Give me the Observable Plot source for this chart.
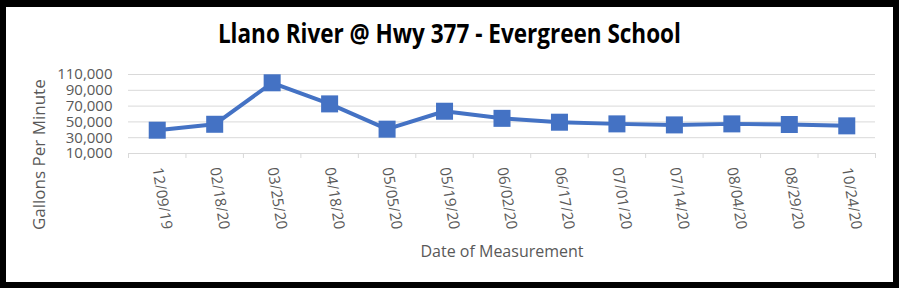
<!DOCTYPE html>
<html>
<head>
<meta charset="utf-8">
<script src="https://cdn.jsdelivr.net/npm/d3@7"></script>
<script src="https://cdn.jsdelivr.net/npm/@observablehq/plot@0.6"></script>
<style>
  html, body { margin: 0; padding: 0; background: #fff; }
  #frame {
    position: relative; width: 899px; height: 288px; box-sizing: border-box;
    border-style: solid; border-color: #000; border-width: 7px 6px 6px 6px;
    background: #fff; overflow: hidden;
  }
  #title {
    position: absolute; top: 13px; left: 0; width: 887px; text-align: center;
    font: 700 26px "Open Sans", sans-serif; line-height: 26px; color: #000;
    white-space: nowrap;
  }
  #title span { display: inline-block; transform-origin: center; }
  #chart { position: absolute; top: 53px; left: 0; }
</style>
</head>
<body>
<div id="frame">
  <div id="title"><span id="titleText"></span></div>
  <div id="chart"></div>
</div>
<script>
const chartTitle = "Llano River @ Hwy 377 - Evergreen School";
const xTitle = "Date of Measurement";
const yTitle = "Gallons Per Minute";
const dates = ["12/09/19","02/18/20","03/25/20","04/18/20","05/05/20","05/19/20","06/02/20","06/17/20","07/01/20","07/14/20","08/04/20","08/29/20","10/24/20"];
const gpm = [39500, 47000, 99500, 72800, 40800, 63500, 54500, 49600, 47500, 46200, 47500, 46700, 45000];
const yTicks = [10000, 30000, 50000, 70000, 90000, 110000];

const data = dates.map((d, i) => ({date: d, i, value: gpm[i]}));
const n = dates.length;
const blue = "#4472C4";
const grey = "#595959";

const t = document.getElementById("titleText");
t.textContent = chartTitle;
const w = t.getBoundingClientRect().width;
t.style.transform = `scaleX(${463 / w})`;

const plot = Plot.plot({
  width: 887,
  height: 222,
  marginTop: 14,
  marginBottom: 129,
  marginLeft: 122,
  marginRight: 18,
  style: {fontFamily: "'Open Sans', sans-serif", fontSize: "15px", color: grey, background: "transparent", overflow: "visible"},
  x: {type: "linear", domain: [0, n]},
  y: {domain: [yTicks[0], yTicks[yTicks.length - 1]]},
  marks: [
    Plot.gridY(yTicks.slice(1), {stroke: "#d9d9d9", strokeOpacity: 1}),
    Plot.ruleY([yTicks[0]], {stroke: "#d9d9d9"}),
    Plot.axisX({ticks: d3.range(n + 1), tickSize: 5, tickFormat: () => "", stroke: "#d9d9d9", strokeOpacity: 1, label: null}),
    Plot.axisX({ticks: d3.range(n).map(i => i + 0.5), tickSize: 0, tickPadding: 14, tickRotate: 81,
      tickFormat: v => dates[Math.floor(v)], fill: grey, fontSize: 15, label: null}),
    Plot.axisY({ticks: yTicks, tickSize: 0, tickPadding: 16, tickFormat: d3.format(","), fill: grey, fontSize: 15, label: null}),
    Plot.line(data, {x: d => d.i + 0.5, y: "value", stroke: blue, strokeWidth: 4}),
    Plot.dot(data, {x: d => d.i + 0.5, y: "value", symbol: "square", r: 9.6, fill: blue, stroke: "none"}),
    Plot.text([xTitle], {frameAnchor: "bottom", text: d => d, textAnchor: "middle", lineAnchor: "middle", dy: 98.6, fontSize: 16, fill: grey}),
    Plot.text([yTitle], {frameAnchor: "left", text: d => d, textAnchor: "middle", lineAnchor: "middle", rotate: -90, dx: -88.7, dy: 40.7, fontSize: 17, fill: grey})
  ]
});
document.getElementById("chart").appendChild(plot);
</script>
</body>
</html>
